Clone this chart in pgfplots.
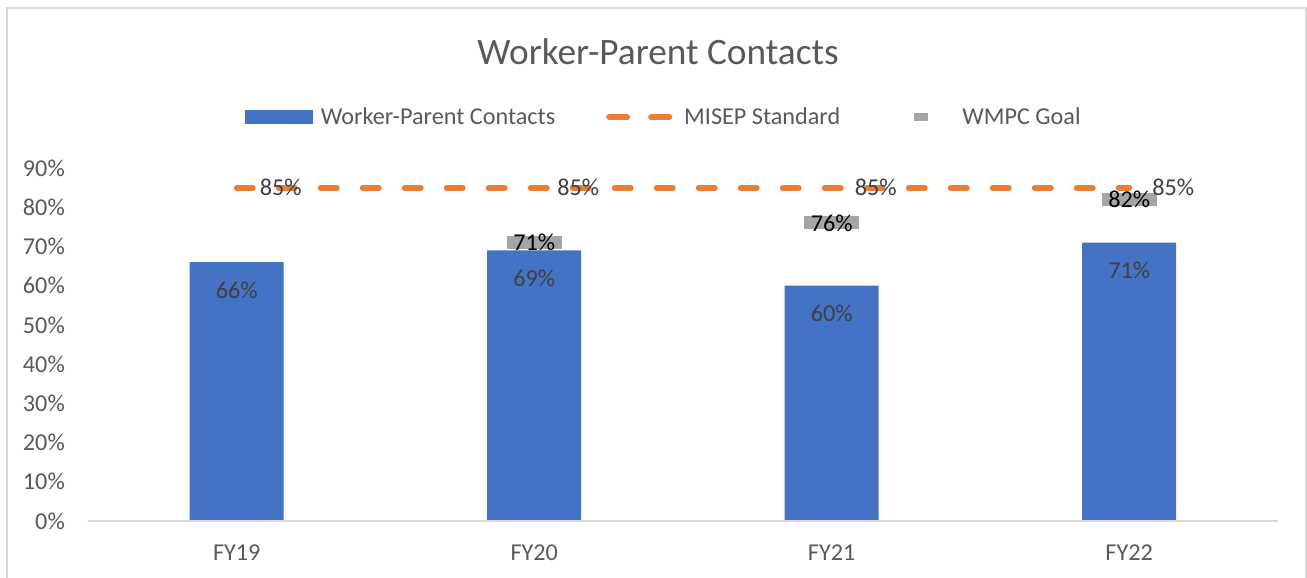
\documentclass[border=0pt]{standalone}
\usepackage{fontspec}
\setmainfont{Carlito}
\usepackage{pgfplots}
\pgfplotsset{compat=1.18}
\definecolor{barblue}{HTML}{4472C4}
\definecolor{misep}{HTML}{ED7D31}
\definecolor{goal}{HTML}{A5A5A5}
\definecolor{txt}{HTML}{595959}
\definecolor{lbl}{HTML}{404040}
\definecolor{framec}{HTML}{D9D9D9}
\pgfdeclareplotmark{goalbar}{\pgfpathrectangle{\pgfqpoint{-27.5pt}{-6.5pt}}{\pgfqpoint{55pt}{13pt}}\pgfusepathqfill}
\newcommand{\lblfont}{\fontsize{24.2}{29}\selectfont}
\begin{document}
\begin{tikzpicture}[x=1pt,y=1pt]
\useasboundingbox (0,0) rectangle (1307,578);
\fill[white] (0,0) rectangle (1307,578);
\draw[framec, line width=2pt] (7,-20) -- (7,570) -- (1306,570) -- (1306,-20);
\node[anchor=base, text=txt, font=\fontsize{37.3}{45}\selectfont, inner sep=0pt] at (658,513) {Worker-Parent Contacts};
\begin{axis}[
  at={(88pt,57pt)}, anchor=south west,
  scale only axis, width=1190pt, height=353pt,
  xmin=-0.5, xmax=3.5, ymin=0, ymax=90,
  xtick={0,1,2,3}, xticklabels={FY19,FY20,FY21,FY22},
  ytick={0,10,...,90},
  yticklabel={\pgfmathprintnumber{\tick}\%},
  /pgf/number format/assume math mode=true,
  axis line style={draw=none},
  major tick length=0pt,
  tick label style={font=\lblfont, text=txt, inner sep=0pt},
  xticklabel style={anchor=base, yshift=-40pt},
  yticklabel style={anchor=east, xshift=-23pt},
  clip=false,
  legend style={at={(0.1319,1.1445)}, anchor=west, draw=none, fill=none,
    inner sep=0pt, outer sep=0pt, column sep=0pt, font=\lblfont, text=txt,
    nodes={inner sep=0pt}},
  legend columns=3, legend cell align=left,
]
\addplot[ybar, bar width=94pt, fill=barblue, draw=none,
  legend image code/.code={\fill[barblue] (0pt,-7pt) rectangle (68pt,7pt); \path[draw=none, fill=none] (0pt,-0.5pt) rectangle (76pt,0.5pt);}]
  coordinates {(0,66) (1,69) (2,60) (3,71)};
\addlegendentry{Worker-Parent Contacts}
\addplot[misep, line width=6pt, dash pattern=on 16pt off 26pt, line cap=round, mark=none,
  legend image code/.code={\path[draw=none, fill=none] (-51pt,-0.5pt) rectangle (78pt,0.5pt); \draw[misep, line width=6pt, line cap=round, solid] (3pt,0pt) -- (21pt,0pt) (45pt,0pt) -- (63pt,0pt);}]
  coordinates {(0,85) (3,85)};
\addlegendentry{MISEP Standard}
\addplot[only marks, mark=goalbar, color=goal,
  legend image code/.code={\path[draw=none, fill=none] (-74pt,-0.5pt) rectangle (48pt,0.5pt); \fill[goal] (0pt,-3.5pt) rectangle (13pt,3.5pt);}]
  coordinates {(1,71) (2,76) (3,82)};
\addlegendentry{WMPC Goal}
\draw[framec, line width=2pt] (axis cs:-0.5,0) -- (axis cs:3.5,0);
% data labels
\addplot[forget plot, draw=none, mark=none, point meta=explicit symbolic,
  nodes near coords={\pgfplotspointmeta\%},
  every node near coord/.append style={anchor=center, yshift=-28pt, font=\lblfont, text=lbl, inner sep=0pt}]
  coordinates {(0,66) [66] (1,69) [69] (2,60) [60] (3,71) [71]};
\addplot[forget plot, draw=none, mark=none, point meta=explicit symbolic,
  nodes near coords={\pgfplotspointmeta\%},
  every node near coord/.append style={anchor=west, xshift=23pt, font=\lblfont, text=lbl, inner sep=0pt}]
  coordinates {(0,85) [85] (1,85) [85] (2,85) [85] (3,85) [85]};
\addplot[forget plot, draw=none, mark=none, point meta=explicit symbolic,
  nodes near coords={\pgfplotspointmeta\%},
  every node near coord/.append style={anchor=center, font=\lblfont, text=black, inner sep=0pt}]
  coordinates {(1,71) [71] (2,76) [76] (3,82) [82]};
\end{axis}
\end{tikzpicture}
\end{document}
